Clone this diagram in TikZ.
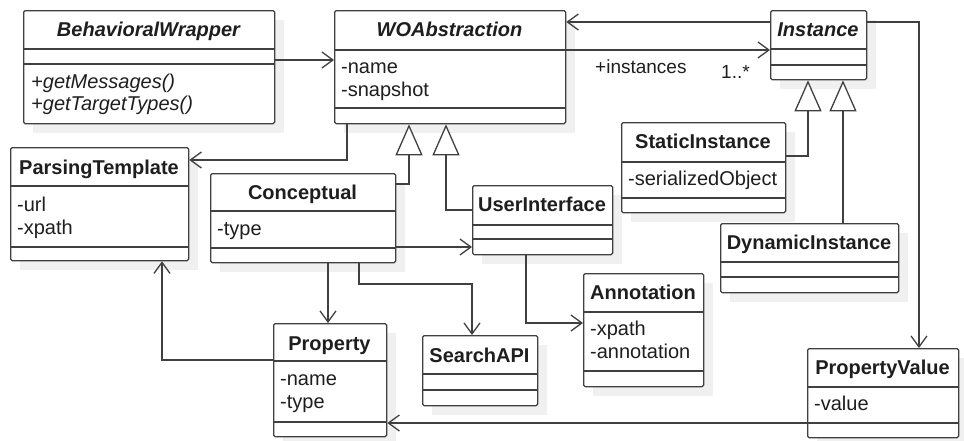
\documentclass[tikz,border=0pt]{standalone}
\usepackage{fontspec}
\setmainfont{Liberation Sans}
\usetikzlibrary{arrows.meta}
\pgfdeclarelayer{bg}
\pgfsetlayers{bg,main}
\definecolor{lc}{HTML}{404040}
\definecolor{tc}{HTML}{1E1E1E}
\definecolor{sc}{HTML}{F0F0F0}
\tikzset{
 ln/.style={draw=lc, line width=1.3pt},
 box/.style={ln, fill=white, rectangle, inner sep=0pt, rounded corners=1.5pt},
 ttl/.style={anchor=base, inner sep=0pt, text=tc, font=\fontsize{20}{23}\selectfont\bfseries},
 attr/.style={anchor=base west, inner sep=0pt, text=tc, font=\fontsize{20}{23}\selectfont},
 lbl/.style={anchor=base west, inner sep=0pt, text=tc, font=\fontsize{19}{23}\selectfont},
 assoc/.style={ln, -{Straight Barb[length=11pt, width=16pt]}},
 gen/.style={ln, -{Triangle[open, length=31pt, width=27pt, fill=white]}}
}
% name, left, top, right, bottom, divider1, divider2
\newcommand\umlbox[7]{%
 \begin{pgfonlayer}{bg}\fill[sc] (#2+10,#3+10) rectangle (#4+10,#5+10);\end{pgfonlayer}
 \node[box, minimum width={#4-#2}, minimum height={#5-#3}, anchor=north west] (#1) at (#2,#3) {};
 \draw[ln] (#2,#6) -- (#4,#6) (#2,#7) -- (#4,#7);
}
\begin{document}
\begin{tikzpicture}[x=1pt,y=-1pt]
\useasboundingbox (0,0) rectangle (964,440);

% classes
\umlbox{bw}{23}{10}{274}{123}{49}{64}
\node[ttl] (bwT) at (148.5,36.5) {\itshape BehavioralWrapper};
\node[attr] (bwO1) at (31,88) {\itshape +getMessages()};
\node[attr] (bwO2) at (31,110) {\itshape +getTargetTypes()};

\umlbox{woa}{334}{10}{565}{123}{50}{108}
\node[ttl] (woaT) at (449.5,36) {\itshape WOAbstraction};
\node[attr] (woaA1) at (341,73) {-name};
\node[attr] (woaA2) at (341,96) {-snapshot};

\umlbox{inst}{770}{10}{866}{79}{49}{65}
\node[ttl] (instT) at (818,36) {\itshape Instance};

\umlbox{pt}{10}{147}{188}{260}{186}{247}
\node[ttl] (ptT) at (99,174) {ParsingTemplate};
\node[attr] (ptA1) at (17,211) {-url};
\node[attr] (ptA2) at (17,234) {-xpath};

\umlbox{conc}{210}{173}{395}{262}{211}{248}
\node[ttl] (concT) at (302.5,199) {Conceptual};
\node[attr] (concA1) at (217,235) {-type};

\umlbox{ui}{472}{185}{612}{254}{225}{239}
\node[ttl] (uiT) at (542,211) {UserInterface};

\umlbox{si}{621}{122}{785}{212}{162}{198}
\node[ttl] (siT) at (703,148) {StaticInstance};
\node[attr] (siA1) at (628,185) {-serializedObject};

\umlbox{di}{720}{223}{898}{292}{262}{277}
\node[ttl] (diT) at (809,249) {DynamicInstance};

\umlbox{prop}{273}{323}{386}{436}{361}{422}
\node[ttl] (propT) at (329.5,350) {Property};
\node[attr] (propA1) at (280,385) {-name};
\node[attr] (propA2) at (280,408) {-type};

\umlbox{sapi}{422}{335}{537}{405}{374}{390}
\node[ttl] (sapiT) at (479.5,362) {SearchAPI};

\umlbox{ann}{583}{273}{703}{386}{312}{371}
\node[ttl] (annT) at (643,299) {Annotation};
\node[attr] (annA1) at (590,335) {-xpath};
\node[attr] (annA2) at (590,358) {-annotation};

\umlbox{pv}{807}{348}{958}{437}{387}{423}
\node[ttl] (pvT) at (882.5,374) {PropertyValue};
\node[attr] (pvA1) at (814,410) {-value};

% connectors
\draw[assoc] (bw.east |- 0,60) -- (woa.west |- 0,60);
\draw[assoc] (inst.west |- 0,22) -- (woa.east |- 0,22);
\draw[assoc] (woa.east |- 0,50) -- (inst.west |- 0,50);
\node[lbl] (instL) at (595,73) {+instances};
\node[lbl] (multL) at (721,78) {1..*};
\draw[assoc] (inst.east |- 0,22) -| (pv.north -| 919,0);
\draw[assoc] (pv.west |- 0,423) -- (prop.east |- 0,423);
\draw[gen] (si.east |- 0,156) -| (inst.south -| 808,0);
\draw[gen] (di.north -| 843,0) -- (inst.south -| 843,0);
\draw[assoc] (woa.south -| 347,0) |- (pt.east |- 0,160);
\draw[gen] (conc.east |- 0,184) -| (woa.south -| 409,0);
\draw[gen] (ui.west |- 0,210) -| (woa.south -| 446,0);
\draw[assoc] (conc.east |- 0,247) -- (ui.west |- 0,247);
\draw[assoc] (conc.south -| 328,0) -- (prop.north -| 328,0);
\draw[assoc] (conc.south -| 359,0) -- (359,284) -| (sapi.north -| 472,0);
\draw[assoc] (ui.south -| 526,0) |- (ann.west |- 0,323);
\draw[assoc] (prop.west |- 0,360) -| (pt.south -| 162,0);
\end{tikzpicture}
\end{document}
